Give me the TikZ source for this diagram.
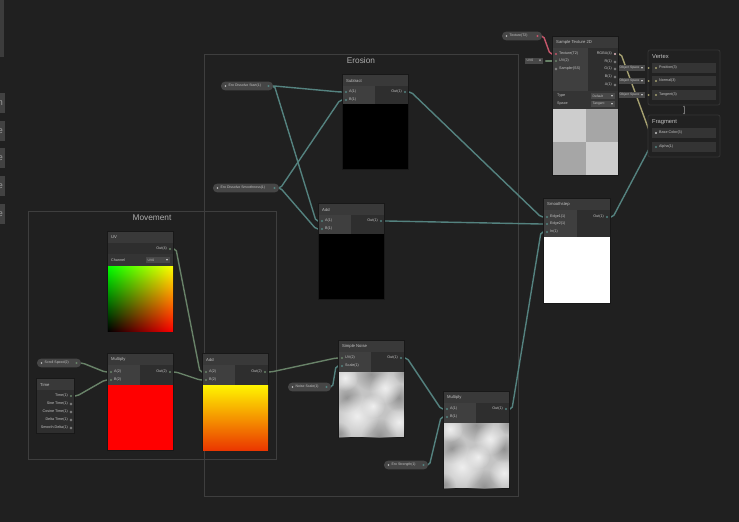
\documentclass[tikz,border=0pt]{standalone}
\usepackage{fontspec}
\setmainfont{Liberation Sans}
\usetikzlibrary{calc,fadings}
\pgfdeclarelayer{backdrop}
\pgfdeclarelayer{wires}
\pgfsetlayers{backdrop,wires,main}

\definecolor{bg}{RGB}{32,32,32}
\definecolor{grpline}{RGB}{62,62,62}
\definecolor{grptext}{RGB}{175,175,175}
\definecolor{hdr}{RGB}{57,57,57}
\definecolor{inarea}{RGB}{63,63,63}
\definecolor{outarea}{RGB}{46,46,46}
\definecolor{chfill}{RGB}{52,52,52}
\definecolor{nodeedge}{RGB}{24,24,24}
\definecolor{txt}{RGB}{196,196,196}
\definecolor{ddfill}{RGB}{72,72,72}
\definecolor{pillfill}{RGB}{70,70,70}
\definecolor{wteal}{RGB}{84,130,127}
\definecolor{wgreen}{RGB}{104,130,104}
\definecolor{wpink}{RGB}{196,86,106}
\definecolor{wolive}{RGB}{165,160,112}
\definecolor{blockedge}{RGB}{52,52,52}
\definecolor{blockfill}{RGB}{33,33,33}
\definecolor{rowfill}{RGB}{52,52,52}
\definecolor{panelc}{RGB}{60,60,60}
\definecolor{panelb}{RGB}{66,66,66}
\definecolor{nbase}{RGB}{196,196,196}
\definecolor{ndark}{RGB}{138,138,138}
\definecolor{nlight}{RGB}{246,246,246}
\definecolor{ckl}{RGB}{205,205,205}
\definecolor{ckd}{RGB}{166,166,166}

\tikzfading[name=softdot, inner color=transparent!15, outer color=transparent!100]

\tikzset{
  plabel/.style={font=\fontsize{3.7}{4.2}\selectfont, text=txt, inner sep=0pt},
  pilltext/.style={font=\fontsize{3.5}{4}\selectfont, text=txt, inner sep=0pt},
  ddtext/.style={font=\fontsize{3.3}{4}\selectfont, text=txt, inner sep=0pt},
  ntitle/.style={font=\fontsize{4.2}{5}\selectfont, text=txt, inner sep=0pt, anchor=west},
  grptitle/.style={font=\fontsize{8.3}{9}\selectfont, text=grptext, inner sep=0pt},
  blocktitle/.style={font=\fontsize{5.8}{6.5}\selectfont, text=txt, inner sep=0pt, anchor=west},
  wire/.style={line width=1.4pt, rounded corners=2pt, line cap=round},
  hollow/.style={draw=txt!80!black, line width=0.45pt},
}

% shader node frame: name, x, y, width, title, port-area height, input-column width, extra height below
\newcommand\sgnode[8]{%
  \fill[nodeedge] (#2-0.7,#3-0.7) rectangle (#2+#4+0.7,#3+11+#6+#8+0.7);
  \fill[hdr] (#2,#3) rectangle (#2+#4,#3+11);
  \node[ntitle] (#1) at (#2+3,#3+5.5) {#5};
  \fill[outarea] (#2,#3+11) rectangle (#2+#4,#3+11+#6);
  \fill[inarea] (#2,#3+11) rectangle (#2+#7,#3+11+#6);
}
% ports: name, x, y, label, dot style
\newcommand\inport[5]{%
  \coordinate (#1) at (#2,#3);
  \path[#5] (#1) circle (1.1);
  \node[plabel, anchor=west] (#1-l) at (#2+3,#3) {#4};
}
\newcommand\outport[5]{%
  \coordinate (#1) at (#2,#3);
  \path[#5] (#1) circle (1.1);
  \node[plabel, anchor=east] (#1-l) at (#2-3,#3) {#4};
}
% property pill: name, x1, x2, y, text, port colour
\newcommand\pill[6]{%
  \fill[pillfill, rounded corners=4] (#2,#4-4.3) rectangle (#3,#4+4.3);
  \fill[txt] (#2+4.5,#4) circle (0.8);
  \node[pilltext, anchor=west] (#1-l) at (#2+7.5,#4) {#5};
  \coordinate (#1) at (#3-4.5,#4);
  \fill[#6] (#1) circle (1.2);
}
% dropdown field: name, x1, x2, y, text
\newcommand\dropdown[5]{%
  \fill[ddfill] (#2,#4-3) rectangle (#3,#4+3);
  \node[ddtext, anchor=west] (#1) at (#2+1.5,#4) {#5};
  \fill[txt] (#3-4,#4-0.9) -- (#3-2,#4-0.9) -- (#3-3,#4+0.8) -- cycle;
}
% cloudy noise preview, 65 x 65 from its top left corner
\newcommand\noisebox[2]{%
  \begin{scope}
    \clip (#1,#2) rectangle ++(65,65);
    \fill[nbase] (#1,#2) rectangle ++(65,65);
    \foreach \u/\v/\r/\c in {32/2/17/ndark, 8/26/15/ndark, 60/26/14/ndark,
        40/64/18/ndark, 0/62/12/ndark, 66/0/12/ndark, 18/44/22/nlight,
        46/16/16/nlight, 60/50/15/nlight, 6/6/13/nlight, 34/34/12/nlight}
      {\fill[\c, path fading=softdot] (#1+\u,#2+\v) circle (\r);}
  \end{scope}}
% connection with short horizontal ends
\newcommand\wire[3]{\draw[wire,#1] (#2) -- ++(6,0) -- ($(#3)+(-6,0)$) -- (#3);}

\begin{document}
\begin{tikzpicture}[x=1pt,y=-1pt]
\useasboundingbox (0,0) rectangle (739,522);

\begin{pgfonlayer}{backdrop}
  \fill[bg] (0,0) rectangle (739,522);
  % side toolbar running past the left edge
  \fill[panelc] (0,0) rectangle (4,57);
  \foreach \yy/\ch in {103/n,131/e,158/e,186/e,214/e}{
    \fill[panelb] (0,\yy-10) rectangle (5,\yy+10);
    \begin{scope}
      \clip (0,\yy-10) rectangle (5,\yy+10);
      \node[font=\fontsize{9}{10}\selectfont, text=txt!80!black, inner sep=0pt] (side\yy) at (0.5,\yy) {\ch};
    \end{scope}
  }
  % groups
  \draw[grpline, line width=0.8] (28,211) rectangle (276,459);
  \draw[grpline, line width=0.8] (204,54) rectangle (518,496);
\end{pgfonlayer}
\node[grptitle] (movement) at (152,217.5) {Movement};
\node[grptitle] (erosion) at (361,61) {Erosion};

% ---------- master stack ----------
\draw[blockedge, fill=blockfill, rounded corners=2, line width=0.8] (648,50) rectangle (720,105);
\node[blocktitle] (vertex) at (652,57) {Vertex};
\foreach \yy/\nm/\lb in {68/vpos/Position(3), 81/vnrm/Normal(3), 95/vtan/Tangent(3)}{
  \fill[rowfill] (652,\yy-5) rectangle (716,\yy+5);
  \inport{\nm}{656}{\yy}{\lb}{fill=wolive}
}
\draw[blockedge, fill=blockfill, rounded corners=2, line width=0.8] (648,115) rectangle (720,157);
\node[blocktitle] (fragment) at (652,122) {Fragment};
\fill[rowfill] (652,128) rectangle (716,138);
\inport{fr-base}{656}{133}{Base Color(3)}{fill=txt}
\fill[rowfill] (652,142) rectangle (716,152);
\inport{fr-alpha}{656}{147}{Alpha(1)}{fill=wteal}
\coordinate (vlink-a) at (684,106.5);
\coordinate (vlink-b) at (684,113.5);
\draw[txt!60!black, line width=0.6] (vlink-a) -- (vlink-b);
\fill[txt!60!black] (vlink-a) circle (0.9) (vlink-b) circle (0.9);
\dropdown{os1}{618}{645}{68}{Object Space}
\dropdown{os2}{618}{645}{81}{Object Space}
\dropdown{os3}{618}{645}{95}{Object Space}
\foreach \k/\yy in {1/68,2/81,3/95}{
  \coordinate (osw\k) at (648.5,\yy);
  \fill[wolive] (osw\k) circle (1);
}

% ---------- Sample Texture 2D ----------
\pill{texp}{502}{542}{36}{Texture(T2)}{wpink}
\sgnode{st}{553}{37}{65}{Sample Texture 2D}{43}{35}{84}
\inport{st-tex}{556}{54}{Texture(T2)}{fill=wpink}
\inport{st-uv}{556}{61}{UV(2)}{fill=wgreen}
\inport{st-smp}{556}{69}{Sampler(SS)}{hollow}
\outport{st-rgba}{615}{54}{RGBA(4)}{fill=wpink!40!white}
\outport{st-r}{615}{62}{R(1)}{hollow}
\outport{st-g}{615}{69}{G(1)}{hollow}
\outport{st-b}{615}{77}{B(1)}{hollow}
\outport{st-a}{615}{85}{A(1)}{hollow}
\fill[chfill] (553,91) rectangle (618,109);
\node[plabel, anchor=west] (st-type) at (557,96) {Type};
\dropdown{st-dd1}{591}{615}{96}{Default}
\node[plabel, anchor=west] (st-space) at (557,104) {Space};
\dropdown{st-dd2}{591}{615}{104}{Tangent}
\fill[ckl] (553,109) rectangle (585.5,142);
\fill[ckd] (585.5,109) rectangle (618,142);
\fill[ckd] (553,142) rectangle (585.5,175);
\fill[ckl] (585.5,142) rectangle (618,175);
\dropdown{uv0}{525}{543}{60.5}{UV0}
\coordinate (uv0-c) at (546,61);
\fill[wgreen] (uv0-c) circle (1);

% ---------- Erosion ----------
\pill{startp}{221}{273}{86}{Ero Dissolve Start(1)}{wteal}
\pill{smoothp}{213}{279}{188}{Ero Dissolve Smoothness(1)}{wteal}

\sgnode{sub}{343}{75}{65}{Subtract}{18}{32}{65}
\inport{sub-a}{346}{92}{A(1)}{fill=wteal}
\inport{sub-b}{346}{100}{B(1)}{fill=wteal}
\outport{sub-out}{405}{92}{Out(1)}{fill=wteal}
\fill[black] (343,104) rectangle (408,169);

\sgnode{adde}{319}{204}{65}{Add}{19}{32}{65}
\inport{adde-a}{322}{221}{A(1)}{fill=wteal}
\inport{adde-b}{322}{229}{B(1)}{fill=wteal}
\outport{adde-out}{381}{221}{Out(1)}{fill=wteal}
\fill[black] (319,234) rectangle (384,299);

\sgnode{ss}{544}{199}{66}{Smoothstep}{27}{33}{66}
\inport{ss-e1}{547}{217}{Edge1(1)}{fill=wteal}
\inport{ss-e2}{547}{224}{Edge2(1)}{fill=wteal}
\inport{ss-in}{547}{232}{In(1)}{fill=wteal}
\outport{ss-out}{607}{217}{Out(1)}{fill=wteal}
\fill[white] (544,237) rectangle (610,303);

\pill{scalep}{288}{331}{387}{Noise Scale(1)}{wteal}
\sgnode{sn}{339}{341}{65}{Simple Noise}{20}{32}{65}
\inport{sn-uv}{342}{358}{UV(2)}{fill=wgreen}
\inport{sn-scale}{342}{366}{Scale(1)}{fill=wteal}
\outport{sn-out}{401}{358}{Out(1)}{fill=wteal}
\noisebox{339}{372}

\pill{strp}{384}{428}{465}{Ero Strength(1)}{wteal}
\sgnode{mule}{444}{392}{65}{Multiply}{20}{32}{65}
\inport{mule-a}{447}{409}{A(1)}{fill=wteal}
\inport{mule-b}{447}{417}{B(1)}{fill=wteal}
\outport{mule-out}{506}{409}{Out(1)}{fill=wteal}
\noisebox{444}{423}

% ---------- Movement ----------
\fill[nodeedge] (107.3,231.3) rectangle (173.7,331.7);
\fill[hdr] (108,232) rectangle (173,243);
\node[ntitle] (uv) at (111,237.5) {UV};
\fill[outarea] (108,243) rectangle (173,254);
\outport{uv-out}{170}{249}{Out(4)}{fill=wgreen}
\fill[chfill] (108,254) rectangle (173,266);
\node[plabel, anchor=west] (uv-ch) at (111,260) {Channel};
\dropdown{uv-dd}{146}{170}{260}{UV0}
\begin{scope}
  \clip (108,266) rectangle (173,331);
  \begin{scope}[transparency group]
    \shade[left color=black, right color=red] (108,266) rectangle (173,331);
    \begin{scope}[blend mode=screen]
      \shade[top color=green, bottom color=black] (108,266) rectangle (173,331);
    \end{scope}
  \end{scope}
\end{scope}

\pill{speedp}{37}{81}{363}{Scroll Speed(2)}{wgreen}
\fill[nodeedge] (36.3,378.3) rectangle (74.7,433.7);
\fill[hdr] (37,379) rectangle (74,390);
\node[ntitle] (time) at (40,384.5) {Time};
\fill[outarea] (37,390) rectangle (74,433);
\outport{t-time}{71}{396}{Time(1)}{fill=wgreen}
\outport{t-sine}{71}{404}{Sine Time(1)}{hollow}
\outport{t-cos}{71}{412}{Cosine Time(1)}{hollow}
\outport{t-delta}{71}{420}{Delta Time(1)}{hollow}
\outport{t-smooth}{71}{428}{Smooth Delta(1)}{hollow}

\sgnode{mulm}{108}{354}{65}{Multiply}{20}{32}{65}
\inport{mulm-a}{111}{372}{A(2)}{fill=wgreen}
\inport{mulm-b}{111}{380}{B(2)}{fill=wgreen}
\outport{mulm-out}{170}{372}{Out(2)}{fill=wgreen}
\fill[red] (108,385) rectangle (173,450);

\sgnode{addm}{203}{354}{65}{Add}{20}{32}{65}
\inport{addm-a}{206}{372}{A(2)}{fill=wgreen}
\inport{addm-b}{206}{380}{B(2)}{fill=wgreen}
\outport{addm-out}{265}{372}{Out(2)}{fill=wgreen}
\shade[top color={rgb,255:red,255;green,245;blue,0}, middle color={rgb,255:red,255;green,175;blue,0},
       bottom color={rgb,255:red,235;green,55;blue,0}] (203,385) rectangle (268,450);

% ---------- connections ----------
\begin{pgfonlayer}{wires}
  \wire{wpink}{texp}{st-tex}
  \draw[wire,wgreen] (uv0-c) -- (st-uv);
  \wire{wolive}{st-rgba}{fr-base}
  \wire{wteal}{ss-out}{fr-alpha}
  \draw[wire,wolive] (osw1) -- (vpos);
  \draw[wire,wolive] (osw2) -- (vnrm);
  \draw[wire,wolive] (osw3) -- (vtan);
  \wire{wteal}{startp}{sub-a}
  \wire{wteal}{startp}{adde-a}
  \wire{wteal}{smoothp}{sub-b}
  \wire{wteal}{smoothp}{adde-b}
  \wire{wteal}{sub-out}{ss-e1}
  \wire{wteal}{adde-out}{ss-e2}
  \wire{wteal}{mule-out}{ss-in}
  \wire{wteal}{sn-out}{mule-a}
  \wire{wteal}{scalep}{sn-scale}
  \wire{wteal}{strp}{mule-b}
  \wire{wgreen}{addm-out}{sn-uv}
  \wire{wgreen}{uv-out}{addm-a}
  \wire{wgreen}{mulm-out}{addm-b}
  \wire{wgreen}{speedp}{mulm-a}
  \wire{wgreen}{t-time}{mulm-b}
\end{pgfonlayer}
\end{tikzpicture}
\end{document}
